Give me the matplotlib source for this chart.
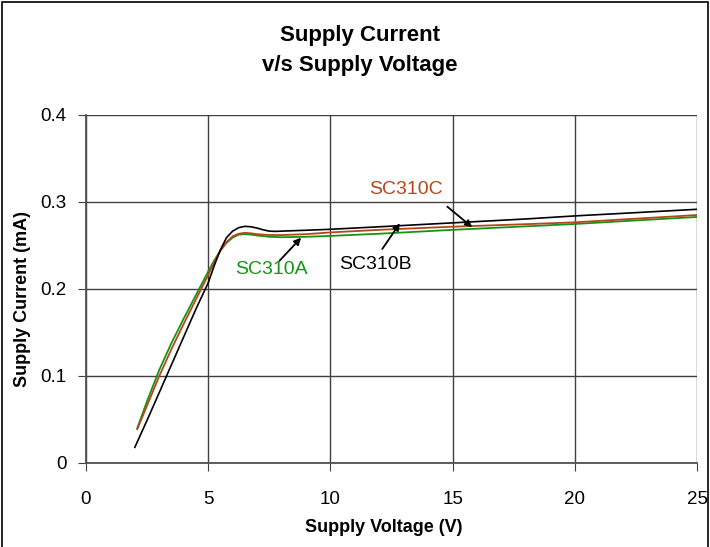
import numpy as np
from matplotlib import pyplot as plt
from matplotlib.patches import Rectangle

plt.rcParams['font.family'] = ['Liberation Sans', 'DejaVu Sans']

# SC310B (black)
xb = [2, 2.5, 3, 3.5, 4, 4.5, 5, 5.25, 5.5, 5.75, 6, 6.25, 6.5, 6.75, 7, 7.25, 7.5, 7.75, 8, 9, 10, 12, 15, 18, 20, 22, 25]
yb = [0.018, 0.049, 0.081, 0.113, 0.145, 0.177, 0.207, 0.227, 0.245, 0.259, 0.2665, 0.2705, 0.2720, 0.2715, 0.2700,
      0.2680, 0.2665, 0.2662, 0.2665, 0.2675, 0.2686, 0.2715, 0.2760, 0.2805, 0.2840, 0.2870, 0.2916]

# SC310A (green)
xa = [2.1, 2.5, 3, 3.5, 4, 4.5, 5, 5.25, 5.5, 5.75, 6, 6.25, 6.5, 6.75, 7, 7.5, 8, 9, 10, 12, 15, 18, 20, 22, 25]
ya = [0.040, 0.071, 0.107, 0.138, 0.166, 0.193, 0.220, 0.233, 0.244, 0.253, 0.259, 0.2625, 0.2630, 0.2625, 0.2615,
      0.2600, 0.2595, 0.2600, 0.2610, 0.2635, 0.2680, 0.2720, 0.2747, 0.2780, 0.2828]

# SC310C (brown)
xc = [2.1, 2.5, 3, 3.5, 4, 4.5, 5, 5.25, 5.5, 5.75, 6, 6.25, 6.5, 6.75, 7, 7.5, 8, 9, 10, 12, 15, 18, 20, 22, 25]
yc = [0.039, 0.066, 0.100, 0.131, 0.160, 0.188, 0.216, 0.231, 0.244, 0.254, 0.2605, 0.2635, 0.2645, 0.2640, 0.2630,
      0.2620, 0.2620, 0.2630, 0.2650, 0.2680, 0.2716, 0.2745, 0.2766, 0.2800, 0.2850]

green = '#149414'
brown = '#b4461c'

fig = plt.figure(figsize=(7.1, 5.47), dpi=100)
ax = fig.add_axes([0.121, 0.1536, 0.861, 0.6362])

ax.plot(xa, ya, color=green, lw=1.3, zorder=3)
ax.plot(xc, yc, color=brown, lw=1.3, zorder=4)
ax.plot(xb, yb, color='black', lw=1.2, zorder=5)

ax.set_xlim(0, 25)
ax.set_ylim(0, 0.4)
ax.set_xticks([0, 5, 10, 15, 20, 25])
ax.set_yticks([0, 0.1, 0.2, 0.3, 0.4])
ax.set_yticklabels(['0', '0.1', '0.2', '0.3', '0.4'])
ax.grid(True, color='#404040', lw=1)
ax.set_axisbelow(True)
for s in ['top', 'right']:
    ax.spines[s].set_visible(False)
for s in ['left', 'bottom']:
    ax.spines[s].set_color('#505050')
    ax.spines[s].set_linewidth(1.3)
ax.tick_params(axis='x', direction='out', length=6, pad=14, labelsize=13.5, color='#404040')
ax.tick_params(axis='y', direction='out', length=6, pad=8, labelsize=13.5, color='#404040')

arw = dict(arrowstyle='-|>', color='black', lw=1.3, mutation_scale=10, shrinkA=0, shrinkB=0)
ax.annotate('', xy=(8.8, 0.2589), xytext=(7.92, 0.2325), arrowprops=arw, zorder=6)
ax.text(7.58, 0.222, 'SC310A', color=green, fontsize=14, ha='center', va='center')
ax.annotate('', xy=(12.84, 0.2755), xytext=(12.12, 0.246), arrowprops=arw, zorder=6)
ax.text(11.85, 0.228, 'SC310B', color='black', fontsize=14, ha='center', va='center')
ax.annotate('', xy=(15.8, 0.271), xytext=(14.78, 0.2946), arrowprops=arw, zorder=6)
ax.text(13.07, 0.314, 'SC310C', color=brown, fontsize=14, ha='center', va='center')

fig.text(0.507, 0.936, 'Supply Current', ha='center', va='center', fontsize=16, fontweight='bold')
fig.text(0.507, 0.881, 'v/s Supply Voltage', ha='center', va='center', fontsize=16, fontweight='bold')
fig.text(0.541, 0.036, 'Supply Voltage (V)', ha='center', va='center', fontsize=13, fontweight='bold')
fig.text(0.031, 0.453, 'Supply Current (mA)', ha='center', va='center', fontsize=13, fontweight='bold',
         rotation=90)

fig.patches.append(Rectangle((0.003, -0.01), 0.994, 1.006, transform=fig.transFigure,
                             fill=False, edgecolor='black', lw=1.2))

plt.savefig('out.png', dpi=100)
